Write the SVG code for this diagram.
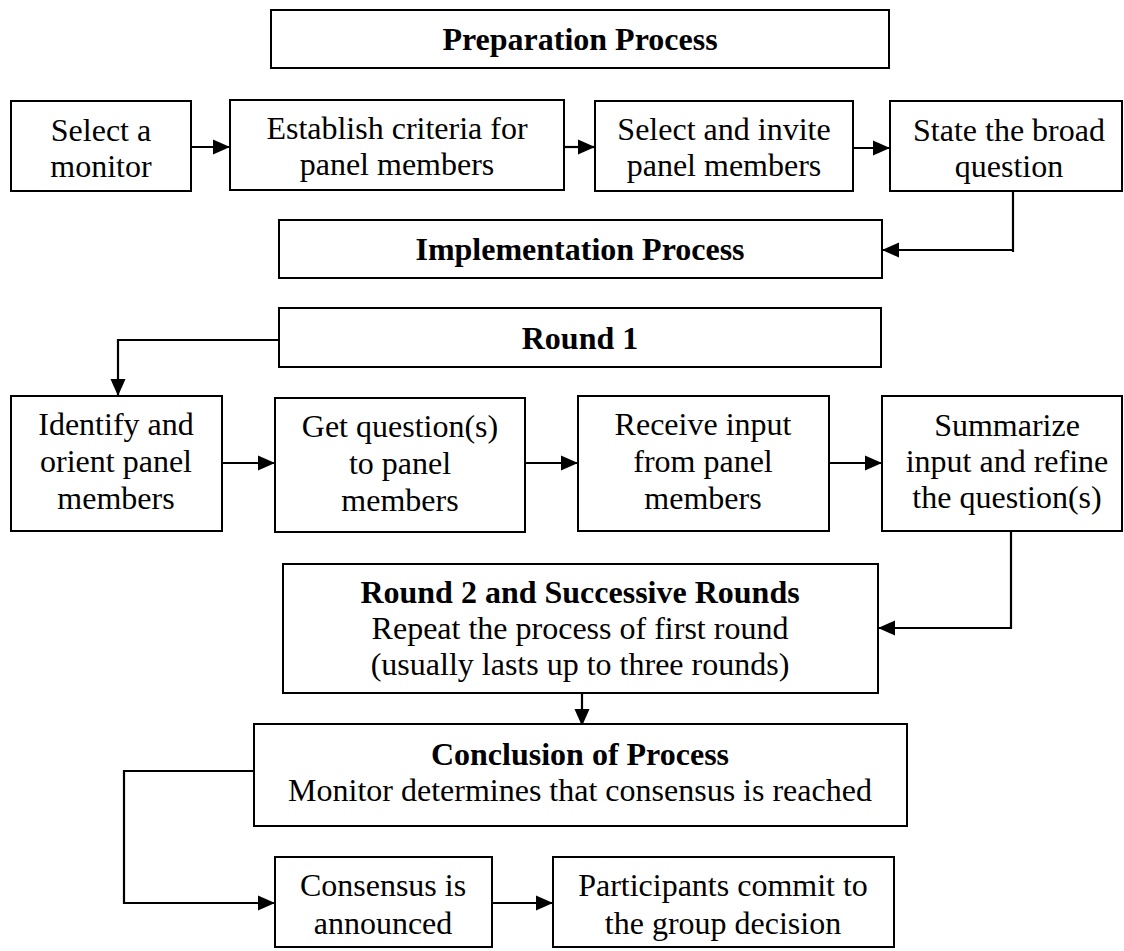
<svg xmlns="http://www.w3.org/2000/svg" width="1124" height="951" viewBox="0 0 1124 951">
<defs>
<style>
.box{fill:#fff;stroke:#000;stroke-width:2}
.t{font-family:"Liberation Serif","Times New Roman",serif;font-size:32px;fill:#000;text-anchor:middle}
.b{font-weight:bold}
.c{fill:none;stroke:#000;stroke-width:2.2}
</style>
<marker id="ah" markerUnits="userSpaceOnUse" markerWidth="18" markerHeight="16" refX="17" refY="8" orient="auto">
<path d="M0,0.5 L17,8 L0,15.5 Z" fill="#000"/>
</marker>
</defs>
<rect width="1124" height="951" fill="#fff"/>

<g id="connectors">
<path class="c" d="M191,147 H230" marker-end="url(#ah)"/>
<path class="c" d="M564,147 H595" marker-end="url(#ah)"/>
<path class="c" d="M853,148 H890" marker-end="url(#ah)"/>
<path class="c" d="M1013,191 V252 M1013,250 H882" marker-end="url(#ah)"/>
<path class="c" d="M279,340 H118 V396" marker-end="url(#ah)"/>
<path class="c" d="M222,463 H275" marker-end="url(#ah)"/>
<path class="c" d="M525,463 H578" marker-end="url(#ah)"/>
<path class="c" d="M829,463 H882" marker-end="url(#ah)"/>
<path class="c" d="M1011,531 V629 M1011,628 H878" marker-end="url(#ah)"/>
<path class="c" d="M582,693 V726" marker-end="url(#ah)"/>
<path class="c" d="M254,771 H124 V903 H275" marker-end="url(#ah)"/>
<path class="c" d="M492,903 H553" marker-end="url(#ah)"/>
</g>

<g id="preparation">
<rect class="box" x="271" y="10" width="618" height="58"/>
<text class="t b" x="580" y="50">Preparation Process</text>
</g>
<g id="select-monitor">
<rect class="box" x="11" y="101" width="180" height="90"/>
<text class="t" x="101" y="141">Select a</text>
<text class="t" x="101" y="177">monitor</text>
</g>
<g id="establish-criteria">
<rect class="box" x="230" y="100" width="334" height="90"/>
<text class="t" x="397" y="139">Establish criteria for</text>
<text class="t" x="397" y="175">panel members</text>
</g>
<g id="select-invite">
<rect class="box" x="595" y="101" width="258" height="90"/>
<text class="t" x="724" y="140">Select and invite</text>
<text class="t" x="724" y="176">panel members</text>
</g>
<g id="state-question">
<rect class="box" x="890" y="101" width="232" height="90"/>
<text class="t" x="1009" y="141">State the broad</text>
<text class="t" x="1009" y="177">question</text>
</g>
<g id="implementation">
<rect class="box" x="279" y="220" width="603" height="58"/>
<text class="t b" x="580" y="260">Implementation Process</text>
</g>
<g id="round1">
<rect class="box" x="279" y="308" width="602" height="59"/>
<text class="t b" x="580" y="349">Round 1</text>
</g>
<g id="identify">
<rect class="box" x="11" y="396" width="211" height="135"/>
<text class="t" x="116" y="435">Identify and</text>
<text class="t" x="116" y="472">orient panel</text>
<text class="t" x="116" y="509">members</text>
</g>
<g id="get-questions">
<rect class="box" x="275" y="398" width="250" height="134"/>
<text class="t" x="400" y="437">Get question(s)</text>
<text class="t" x="400" y="474">to panel</text>
<text class="t" x="400" y="511">members</text>
</g>
<g id="receive-input">
<rect class="box" x="578" y="396" width="251" height="135"/>
<text class="t" x="703" y="435">Receive input</text>
<text class="t" x="703" y="472">from panel</text>
<text class="t" x="703" y="509">members</text>
</g>
<g id="summarize">
<rect class="box" x="882" y="396" width="240" height="135"/>
<text class="t" x="1007" y="436">Summarize</text>
<text class="t" x="1007" y="472">input and refine</text>
<text class="t" x="1007" y="508">the question(s)</text>
</g>
<g id="round2">
<rect class="box" x="283" y="564" width="595" height="129"/>
<text class="t b" x="580" y="603">Round 2 and Successive Rounds</text>
<text class="t" x="580" y="639">Repeat the process of first round</text>
<text class="t" x="580" y="675">(usually lasts up to three rounds)</text>
</g>
<g id="conclusion">
<rect class="box" x="254" y="724" width="653" height="102"/>
<text class="t b" x="580" y="765">Conclusion of Process</text>
<text class="t" x="580" y="801">Monitor determines that consensus is reached</text>
</g>
<g id="consensus">
<rect class="box" x="275" y="857" width="217" height="90"/>
<text class="t" x="383" y="896">Consensus is</text>
<text class="t" x="383" y="934">announced</text>
</g>
<g id="participants">
<rect class="box" x="553" y="857" width="341" height="90"/>
<text class="t" x="723" y="896">Participants commit to</text>
<text class="t" x="723" y="934">the group decision</text>
</g>
</svg>
